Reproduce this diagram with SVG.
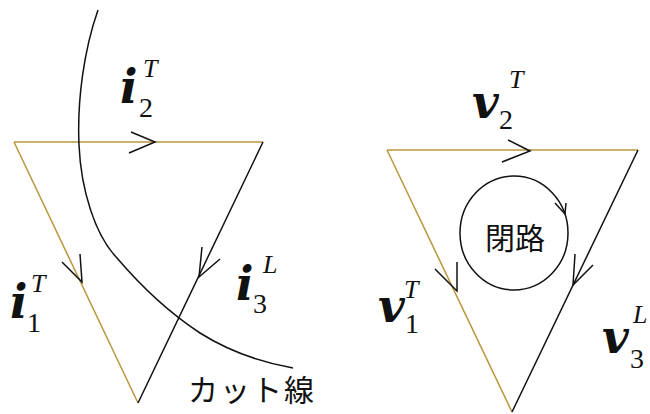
<svg xmlns="http://www.w3.org/2000/svg" width="650" height="414" viewBox="0 0 650 414">
<style>
.bg{fill:#ffffff}
.or{stroke:#b8963c;stroke-width:1.5;fill:none}
.bk{stroke:#111;stroke-width:1.5;fill:none}
.var{font-family:"DejaVu Serif","Liberation Serif",serif;font-weight:bold;font-style:italic;font-size:46px;fill:#111}
.sub{font-family:"Liberation Serif",serif;font-size:28px;fill:#111}
.sup{font-family:"Liberation Serif",serif;font-style:italic;font-size:26px;fill:#111}
.jp{font-family:"Noto Sans CJK JP","Noto Sans CJK SC",sans-serif;font-size:30px;fill:#111}
</style>
<rect class="bg" x="0" y="0" width="650" height="414"/>
<g id="edges">
  <line class="or" x1="14" y1="142" x2="263" y2="142"/>
  <line class="or" x1="14" y1="142" x2="138" y2="403"/>
  <line class="bk" x1="263" y1="142" x2="138" y2="403"/>
  <polyline class="bk" points="131,132 155,142 129,153"/>
  <polyline class="bk" points="62,262 82,282 80,254"/>
  <polyline class="bk" points="202,247 199,277 220,259"/>
  <line class="or" x1="387" y1="150" x2="638" y2="150"/>
  <line class="or" x1="387" y1="150" x2="512" y2="412"/>
  <line class="bk" x1="638" y1="150" x2="512" y2="412"/>
  <polyline class="bk" points="508,140 530,151 502,162"/>
  <polyline class="bk" points="435,269 457,291 457,262"/>
  <polyline class="bk" points="575,254 573,285 593,265"/>
</g>
<g id="cutline">
  <path class="bk" d="M98,10 C84,50 77,100 79,145 C81,190 95,235 117,258 C140,285 165,310 200,333 C230,352 260,362 293,368"/>
  <text class="jp" x="188" y="401" letter-spacing="2">カット線</text>
</g>
<g id="loop">
  <ellipse class="bk" cx="514" cy="233" rx="54" ry="57"/>
  <polyline class="bk" points="555,203 565,214 566,203"/>
  <text class="jp" x="485" y="249">閉路</text>
</g>
<g id="label-i2">
  <text class="var" x="120" y="103">i</text>
  <text class="sub" x="139" y="117">2</text>
  <text class="sup" x="143" y="77">T</text>
</g>
<g id="label-i1">
  <text class="var" x="10" y="318">i</text>
  <text class="sub" x="27" y="332">1</text>
  <text class="sup" x="31" y="292">T</text>
</g>
<g id="label-i3">
  <text class="var" x="236" y="300">i</text>
  <text class="sub" x="253" y="313">3</text>
  <text class="sup" x="263" y="273">L</text>
</g>
<g id="label-v2">
  <text class="var" x="472" y="118">v</text>
  <text class="sub" x="499" y="129">2</text>
  <text class="sup" x="509" y="88">T</text>
</g>
<g id="label-v1">
  <text class="var" x="378" y="322">v</text>
  <text class="sub" x="405" y="333">1</text>
  <text class="sup" x="404" y="298">T</text>
</g>
<g id="label-v3">
  <text class="var" x="602" y="353">v</text>
  <text class="sub" x="630" y="368">3</text>
  <text class="sup" x="633" y="323">L</text>
</g>
</svg>
